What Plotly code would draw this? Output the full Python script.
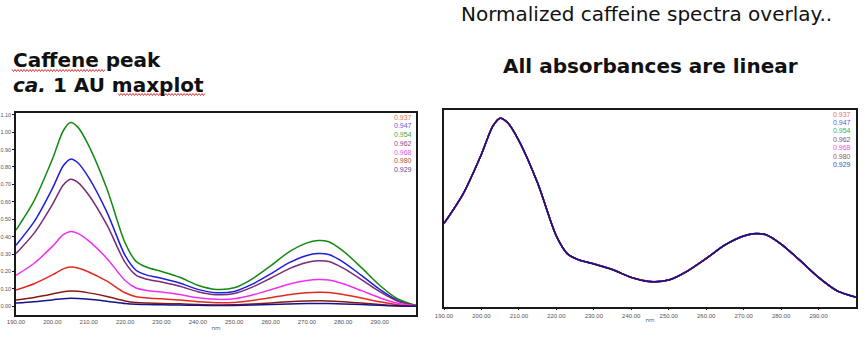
import plotly.graph_objects as go

# Wavelength grid (nm)
wavelength = [190, 195, 200, 203, 205, 207, 210, 215, 220, 223, 226, 230, 235,
              240, 245, 250, 255, 260, 265, 270, 273, 276, 280, 285, 290, 295, 300]

# Absorbance (AU) of each caffeine standard, labelled by its correlation value
abs_0937 = [0.0934, 0.1294, 0.1800, 0.2149, 0.2250, 0.2194, 0.1969, 0.1440, 0.0776, 0.0551, 0.0477,
            0.0428, 0.0356, 0.0259, 0.0207, 0.0225, 0.0338, 0.0495, 0.0664, 0.0776, 0.0806, 0.0792,
            0.0675, 0.0473, 0.0259, 0.0090, 0.0011]
abs_0947 = [0.351, 0.486, 0.676, 0.807, 0.845, 0.824, 0.739, 0.541, 0.292, 0.207, 0.179, 0.161, 0.134,
            0.097, 0.078, 0.085, 0.127, 0.186, 0.249, 0.292, 0.303, 0.297, 0.254, 0.177, 0.097, 0.034, 0.004]
abs_0954 = [0.438, 0.607, 0.844, 1.008, 1.055, 1.029, 0.923, 0.675, 0.364, 0.258, 0.224, 0.200, 0.167,
            0.121, 0.097, 0.106, 0.158, 0.232, 0.311, 0.364, 0.378, 0.371, 0.317, 0.222, 0.121, 0.042, 0.005]
abs_0962 = [0.303, 0.420, 0.584, 0.697, 0.730, 0.712, 0.639, 0.467, 0.252, 0.179, 0.155, 0.139, 0.115,
            0.084, 0.067, 0.073, 0.110, 0.161, 0.215, 0.252, 0.261, 0.257, 0.219, 0.153, 0.084, 0.029, 0.004]
abs_0968 = [0.178, 0.247, 0.344, 0.411, 0.430, 0.419, 0.376, 0.275, 0.148, 0.105, 0.091, 0.082, 0.068,
            0.049, 0.040, 0.043, 0.065, 0.095, 0.127, 0.148, 0.154, 0.151, 0.129, 0.090, 0.049, 0.017, 0.002]
abs_0980 = [0.0365, 0.0506, 0.0704, 0.0840, 0.0880, 0.0858, 0.0770, 0.0563, 0.0304, 0.0216, 0.0187,
            0.0167, 0.0139, 0.0101, 0.0081, 0.0088, 0.0132, 0.0194, 0.0260, 0.0304, 0.0315, 0.0310,
            0.0264, 0.0185, 0.0101, 0.0035, 0.0004]
abs_0929 = [0.0191, 0.0265, 0.0368, 0.0439, 0.0460, 0.0449, 0.0403, 0.0294, 0.0159, 0.0113, 0.0098,
            0.0087, 0.0073, 0.0053, 0.0042, 0.0046, 0.0069, 0.0101, 0.0136, 0.0159, 0.0165, 0.0162,
            0.0138, 0.0097, 0.0053, 0.0018, 0.0002]

series_labels = ["0.937", "0.947", "0.954", "0.962", "0.968", "0.980", "0.929"]
series_values = [abs_0937, abs_0947, abs_0954, abs_0962, abs_0968, abs_0980, abs_0929]
line_colors = ["#e02a20", "#1e1ee0", "#128a12", "#7a2a7a", "#f030f0", "#8a1a10", "#14148a"]
label_colors = ["#e87060", "#6060d8", "#4aa84a", "#8a4a8a", "#f050f0", "#a05a40", "#50509a"]

x_ticks = [190, 200, 210, 220, 230, 240, 250, 260, 270, 280, 290]
y_ticks = [0.0, 0.1, 0.2, 0.3, 0.4, 0.5, 0.6, 0.7, 0.8, 0.9, 1.0, 1.1]

W, H = 868, 337


def fx(px):
    return px / W


def fy(py):
    return 1 - py / H


fig = go.Figure()

# Left panel: raw absorbance overlay
for name, vals, col in zip(series_labels, series_values, line_colors):
    fig.add_trace(go.Scatter(x=wavelength, y=vals, mode="lines", name=name,
                             line=dict(color=col, width=1.5, shape="spline", smoothing=0.8),
                             xaxis="x", yaxis="y", showlegend=False))

# Right panel: each spectrum divided by its own maximum
for name, vals, col in zip(series_labels, series_values, line_colors):
    peak = max(vals)
    norm = [v / peak for v in vals]
    fig.add_trace(go.Scatter(x=wavelength, y=norm, mode="lines", name=name,
                             line=dict(color=col, width=1.5, shape="spline", smoothing=0.8),
                             xaxis="x2", yaxis="y2", showlegend=False))

tick_font = dict(family="Liberation Sans, Arial, sans-serif", size=6, color="#555555")
ytick_font = dict(family="Liberation Sans, Arial, sans-serif", size=5.5, color="#555555")
frame = dict(showline=True, linecolor="#1a1a1a", linewidth=1.5, mirror=True,
             showgrid=False, zeroline=False, automargin=False)

fig.update_layout(
    width=W, height=H,
    margin=dict(l=0, r=0, t=0, b=0, autoexpand=False),
    paper_bgcolor="white", plot_bgcolor="white",
    xaxis=dict(domain=[fx(16), fx(416)], range=[190, 300], tickvals=x_ticks,
               tickformat=".2f", tickfont=tick_font, ticks="", anchor="y",
               title=dict(text="nm", font=dict(size=6, color="#555555"), standoff=2),
               **frame),
    yaxis=dict(domain=[fy(315), fy(113)], range=[-0.05, 1.11], tickvals=y_ticks,
               tickformat=".2f", tickfont=ytick_font, ticks="outside", ticklen=2,
               tickcolor="#1a1a1a", anchor="x", **frame),
    xaxis2=dict(domain=[fx(444), fx(856)], range=[190, 300], tickvals=x_ticks,
                tickformat=".2f", tickfont=tick_font, ticks="outside", ticklen=2,
                tickcolor="#1a1a1a", anchor="y2",
                title=dict(text="nm", font=dict(size=6, color="#555555"), standoff=0),
                **frame),
    yaxis2=dict(domain=[fy(306.7), fy(110)], range=[-0.048, 1.046], showticklabels=False,
                ticks="", anchor="x2", **frame),
)

annotations = []
title_font = "DejaVu Sans, Verdana, sans-serif"
annotations.append(dict(text="<b>Caffene peak</b>", x=fx(11), y=fy(60), xref="paper", yref="paper",
                        xanchor="left", yanchor="middle", showarrow=False,
                        font=dict(family=title_font, size=20, color="#111111")))
annotations.append(dict(text="<b><i>ca.</i> 1 AU maxplot</b>", x=fx(11), y=fy(85), xref="paper",
                        yref="paper", xanchor="left", yanchor="middle", showarrow=False,
                        font=dict(family=title_font, size=20, color="#111111")))
annotations.append(dict(text="Normalized caffeine spectra overlay..", x=fx(646), y=fy(14),
                        xref="paper", yref="paper", xanchor="center", yanchor="middle",
                        showarrow=False, font=dict(family=title_font, size=20, color="#111111")))
annotations.append(dict(text="<b>All absorbances are linear</b>", x=fx(650), y=fy(66),
                        xref="paper", yref="paper", xanchor="center", yanchor="middle",
                        showarrow=False, font=dict(family=title_font, size=20, color="#111111")))

# Sample labels in the top-right corner of each panel
legend_font = "Liberation Sans, Arial, sans-serif"
for i, (name, col) in enumerate(zip(series_labels, label_colors)):
    annotations.append(dict(text=name, x=fx(414), y=fy(117 + i * 8.8), xref="paper", yref="paper",
                            xanchor="right", yanchor="middle", showarrow=False,
                            font=dict(family=legend_font, size=7, color=col)))
    annotations.append(dict(text=name, x=fx(853), y=fy(114 + i * 8.4), xref="paper", yref="paper",
                            xanchor="right", yanchor="middle", showarrow=False,
                            font=dict(family=legend_font, size=7, color=col)))
fig.update_layout(annotations=annotations)


# Spell-check style wavy underlines beneath the left heading words
def squiggle(x0, x1, y, period=3.0, amp=1.0):
    pts = []
    n = int((x1 - x0) / (period / 2))
    for k in range(n + 1):
        px = x0 + k * period / 2
        py = y + (amp if k % 2 else -amp)
        pts.append(f"{fx(px):.5f},{fy(py):.5f}")
    return "M " + " L ".join(pts)


for (a, b, yy) in [(12, 106, 70.5), (118, 205, 94.5)]:
    fig.add_shape(type="path", path=squiggle(a, b, yy), xref="paper", yref="paper",
                  line=dict(color="#e03030", width=1))

fig.write_html("out.html")
